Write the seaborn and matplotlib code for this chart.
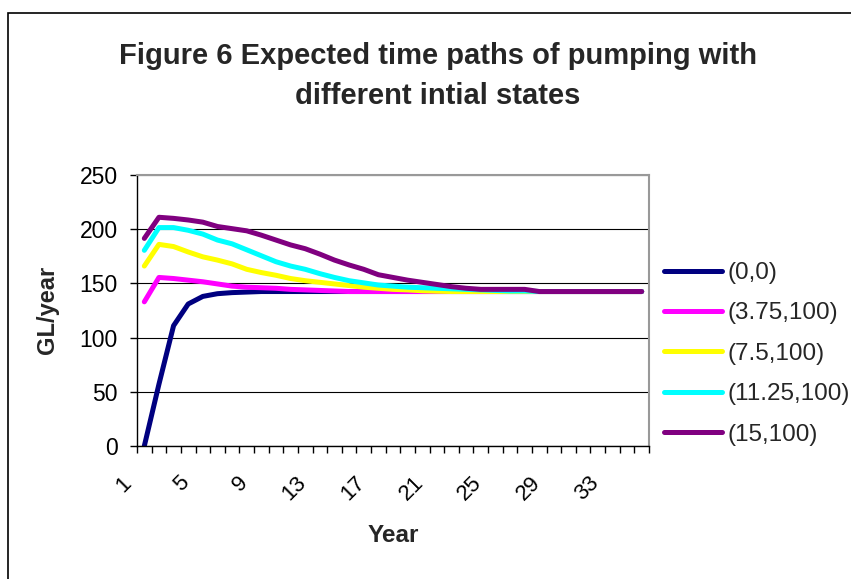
import matplotlib
matplotlib.use("Agg")
import matplotlib.pyplot as plt
import matplotlib.transforms as mtransforms
from matplotlib.patches import Rectangle
from matplotlib.lines import Line2D
import numpy as np
import pandas as pd
import seaborn as sns

# Years 1..35
years = list(range(1, 36))

series_names = ["(0,0)", "(3.75,100)", "(7.5,100)", "(11.25,100)", "(15,100)"]
series_colors = ["#000080", "#FF00FF", "#FFFF00", "#00FFFF", "#800080"]

pump_0_0 = [0, 57, 111, 131, 138, 140.5, 141.5, 142, 142.5, 142.5,
            142.5, 142.5, 142.5, 142.5, 142.5, 142.5, 142.5, 142.5, 142.5, 142.5,
            142.5, 142.5, 142.5, 142.5, 142.5, 142.5, 142.5, 142.5, 142.5, 142.5,
            142.5, 142.5, 142.5, 142.5, 142.5]
pump_375_100 = [133, 155.5, 154.5, 153, 151.5, 149.5, 147.5, 146.5, 146, 145.5,
                144.5, 144, 143.5, 143, 142.5, 142.5, 142.5, 142.5, 142.5, 142.5,
                142.5, 142.5, 142.5, 142.5, 142.5, 142.5, 142.5, 142.5, 142.5, 142.5,
                142.5, 142.5, 142.5, 142.5, 142.5]
pump_75_100 = [166, 186, 184, 179, 174.5, 171.5, 168, 163, 160, 157.5,
               154.5, 152.5, 151, 149.5, 148, 146.5, 145.5, 144.5, 144, 143.2,
               142.8, 142.5, 142.5, 142.5, 142.5, 142.5, 142.5, 142.5, 142.5, 142.5,
               142.5, 142.5, 142.5, 142.5, 142.5]
pump_1125_100 = [180.5, 201.5, 201.5, 199, 195.5, 190, 186.5, 181, 175.5, 170,
                 166, 163, 159, 155.5, 152.5, 150.5, 148.5, 147.5, 146.5, 146,
                 145.5, 145, 144.5, 144, 143.5, 143, 143, 142.5, 142.5, 142.5,
                 142.5, 142.5, 142.5, 142.5, 142.5]
pump_15_100 = [191.5, 211, 210, 208.5, 206.5, 202.5, 200.5, 198.5, 194.5, 190,
               185.5, 182, 177, 171.5, 167, 163, 158, 155.5, 153, 151,
               149, 147, 145.5, 144.5, 144.5, 144.5, 144.5, 142.5, 142.5, 142.5,
               142.5, 142.5, 142.5, 142.5, 142.5]

all_series = [pump_0_0, pump_375_100, pump_75_100, pump_1125_100, pump_15_100]

y_ticks = [0, 50, 100, 150, 200, 250]
x_tick_years = [1, 5, 9, 13, 17, 21, 25, 29, 33]

rows = []
for name, vals in zip(series_names, all_series):
    for i, (yr, v) in enumerate(zip(years, vals)):
        rows.append({"pos": i, "year": yr, "value": v, "series": name})
df = pd.DataFrame(rows)

sns.set_theme(style="white")
plt.rcParams["font.family"] = ["Liberation Sans", "DejaVu Sans"]

fig = plt.figure(figsize=(8.51, 5.79), dpi=100)
ax = fig.add_axes([137 / 851, 1 - 446 / 579, (649 - 137) / 851, (446 - 175) / 579])

sns.lineplot(data=df, x="pos", y="value", hue="series", hue_order=series_names,
             palette=series_colors, linewidth=3.6, legend=False, ax=ax,
             solid_capstyle="round", solid_joinstyle="round")

ax.set_xlim(-0.5, len(years) - 0.5)
ax.set_ylim(0, 250)

# y axis
ax.set_yticks(y_ticks)
ax.set_yticklabels([str(t) for t in y_ticks], fontsize=16.5, color="black")
ax.tick_params(axis="y", which="major", direction="out", length=5, width=1,
               color="black", pad=9, left=True)
ax.yaxis.grid(True, color="black", linewidth=0.8)
ax.xaxis.grid(False)

# x axis: tick marks between categories, labels at category centres
ax.set_xticks([years.index(y) for y in x_tick_years])
ax.set_xticklabels([str(y) for y in x_tick_years], fontsize=16, rotation=45,
                   ha="right", va="top", color="black")
ax.set_xticks(np.arange(-0.5, len(years), 1.0), minor=True)
ax.tick_params(axis="x", which="major", length=0, pad=19, bottom=True)
ax.tick_params(axis="x", which="minor", direction="out", length=5, width=1,
               color="black", bottom=True)
shift = mtransforms.ScaledTranslation(-9 / 100, 0, fig.dpi_scale_trans)
for lbl in ax.get_xticklabels():
    lbl.set_transform(lbl.get_transform() + shift)

for side in ["left", "bottom"]:
    ax.spines[side].set_color("black")
    ax.spines[side].set_linewidth(1.0)
for side in ["top", "right"]:
    ax.spines[side].set_color("#999999")
    ax.spines[side].set_linewidth(1.5)

ax.set_xlabel("")
ax.set_ylabel("")

fig.text(48 / 851, 1 - 310 / 579, "GL/year", rotation=90, fontsize=17,
         fontweight="bold", ha="center", va="center")
fig.text(393 / 851, 1 - 536 / 579, "Year", fontsize=17.5, fontweight="bold",
         ha="center", va="center")
fig.text(438 / 851, 1 - 76 / 579,
         "Figure 6 Expected time paths of pumping with\ndifferent intial states",
         fontsize=21, fontweight="bold", ha="center", va="center",
         linespacing=1.5)

handles = [Line2D([0], [0], color=c, lw=3.6, solid_capstyle="round")
           for c in series_colors]
fig.legend(handles, series_names, loc="upper left",
           bbox_to_anchor=(664 / 851, 1 - 262 / 579), frameon=False,
           fontsize=17.5, handlelength=2.4, handletextpad=0.22,
           labelspacing=0.76, borderaxespad=0, borderpad=0)

# chart area border
fig.patches.append(Rectangle((8 / 851, -0.05), 1.0, 1 - 13 / 579 + 0.05,
                             transform=fig.transFigure, fill=False,
                             edgecolor="black", linewidth=1.2))

fig.savefig("out.png", dpi=100)
